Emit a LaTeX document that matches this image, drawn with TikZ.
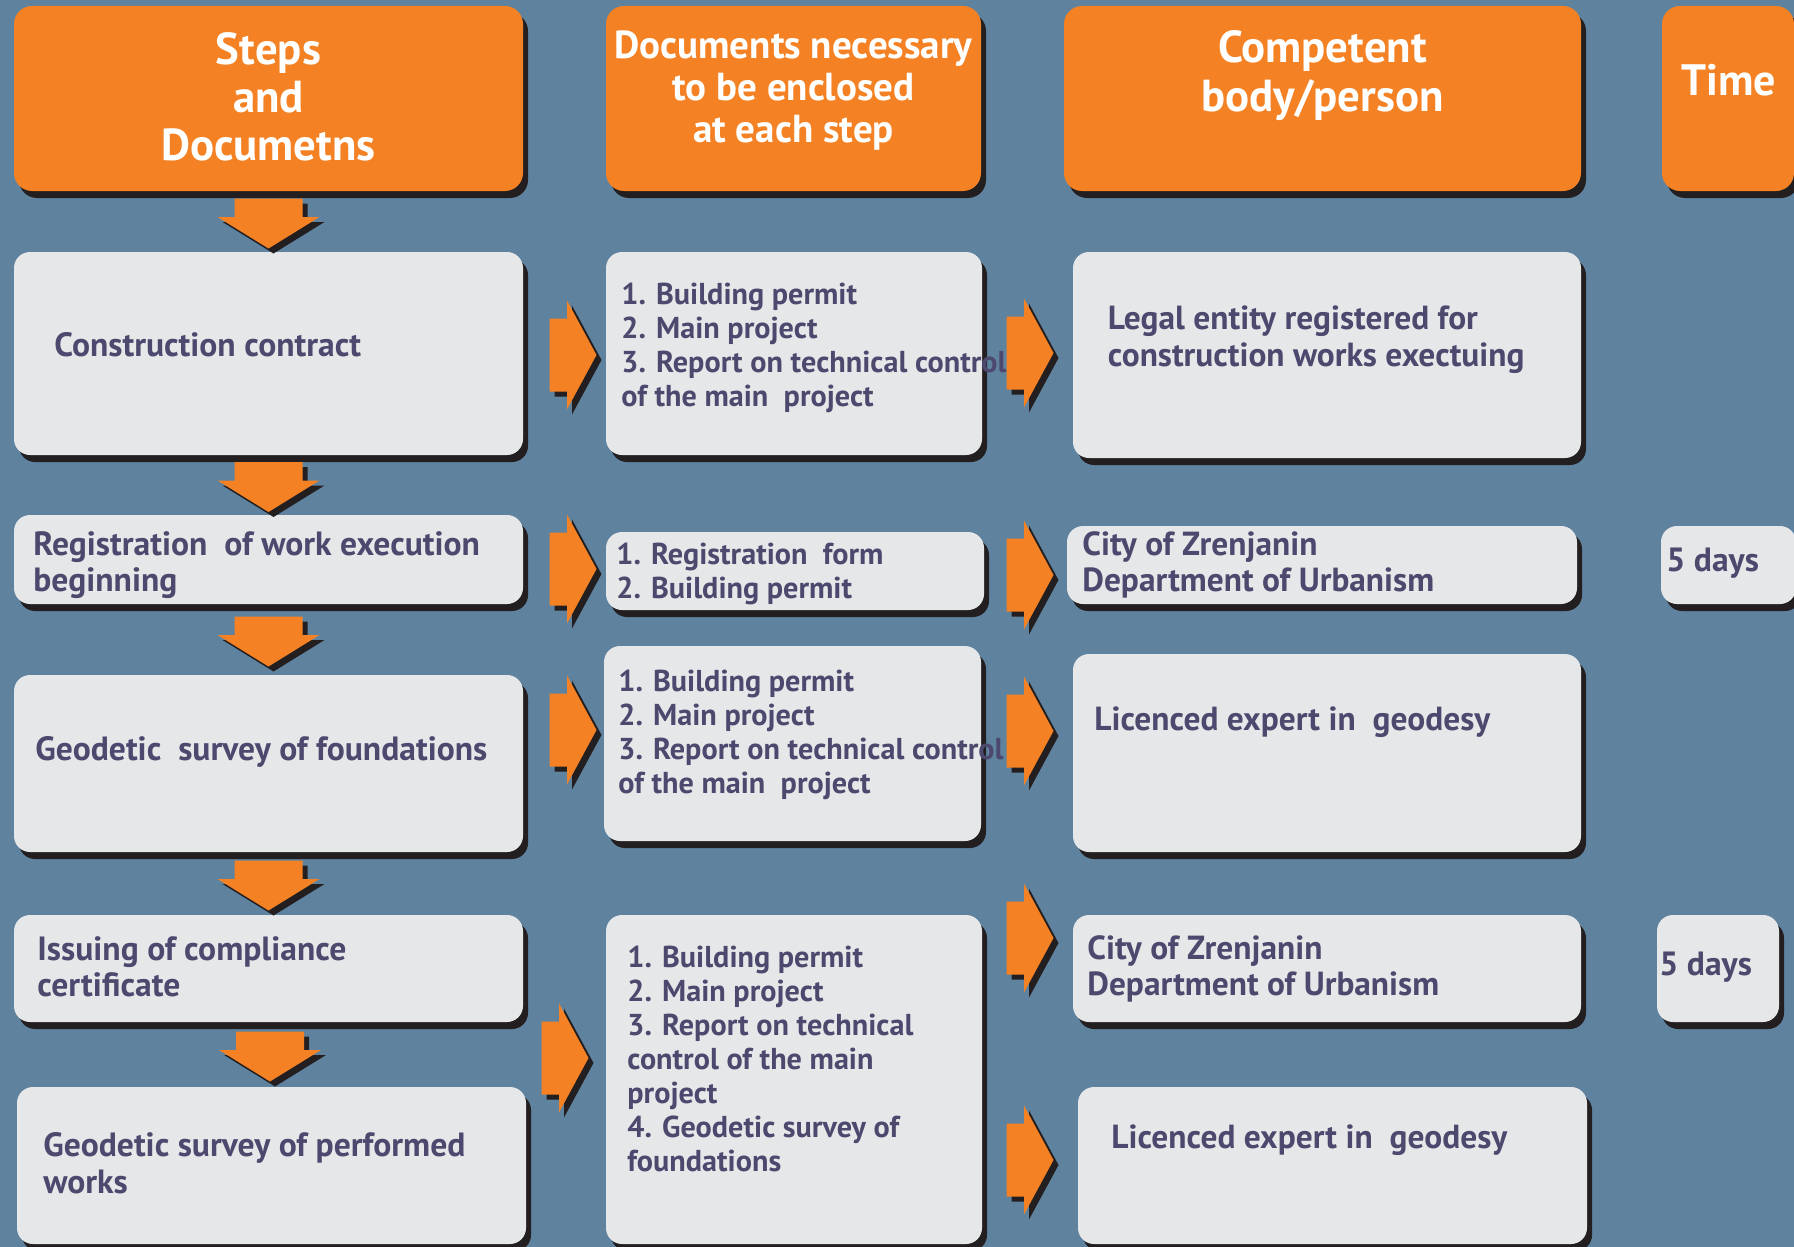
\documentclass[tikz,border=0pt]{standalone}
\usepackage{fontspec}
\setmainfont{PT Sans}
\usetikzlibrary{shadows,calc}

\definecolor{bgblue}{RGB}{95,130,159}
\definecolor{orng}{RGB}{244,130,36}
\definecolor{boxgray}{RGB}{230,231,233}
\definecolor{ink}{RGB}{76,72,110}
\definecolor{shd}{RGB}{35,31,32}

\newcommand\bodyfont{\fontsize{16.8}{18}\selectfont\bfseries}
\newcommand\docfont{\fontsize{15.1}{17}\selectfont\bfseries}
\newcommand\hdrfont{\fontsize{22.4}{24}\selectfont\bfseries}

\tikzset{
  hdr/.style={fill=orng, rounded corners=9pt, inner sep=0pt,
    drop shadow={shadow xshift=2.5pt, shadow yshift=-3.5pt, fill=shd, opacity=1}},
  box/.style={fill=boxgray, rounded corners=8pt, inner sep=0pt,
    drop shadow={shadow xshift=2.5pt, shadow yshift=-3.5pt, fill=shd, opacity=1}},
  txt/.style={text=ink, font=\bodyfont, align=left, anchor=west, inner sep=0pt},
  doctxt/.style={txt, font=\docfont},
  htxt/.style={text=white, font=\hdrfont, align=center, inner sep=0pt},
  rarr/.pic={
    \fill[shd, shift={(5,5)}] (-23.5,-36.5) -- (-6,-36.5) -- (-6,-54.5) -- (23.5,0)
      -- (-6,54.5) -- (-6,36.5) -- (-23.5,36.5) -- cycle;
    \fill[orng] (-23.5,-36.5) -- (-6,-36.5) -- (-6,-54.5) -- (23.5,0)
      -- (-6,54.5) -- (-6,36.5) -- (-23.5,36.5) -- cycle;
  },
  darr/.pic={
    \fill[shd, shift={(5,5)}] (-34,-25) -- (34,-25) -- (34,-6.5) -- (51,-6.5)
      -- (0,25) -- (-51,-6.5) -- (-34,-6.5) -- cycle;
    \fill[orng] (-34,-25) -- (34,-25) -- (34,-6.5) -- (51,-6.5)
      -- (0,25) -- (-51,-6.5) -- (-34,-6.5) -- cycle;
  },
}

\begin{document}
\begin{tikzpicture}[x=0.5pt, y=-0.5pt]
  \fill[bgblue] (0,0) rectangle (1794,1247);
  \useasboundingbox (0,0) rectangle (1794,1247);

  % headers
  \node[hdr, minimum width=254.5pt, minimum height=92.5pt] (h1) at (268.5,98.5) {};
  \node[hdr, minimum width=187.5pt, minimum height=92.5pt] (h2) at (793.5,98.5) {};
  \node[hdr, minimum width=258.5pt, minimum height=92.5pt] (h3) at (1322.5,98.5) {};
  \node[hdr, minimum width=66pt, minimum height=92.5pt]    (h4) at (1728,98.5) {};

  % steps
  \node[box, minimum width=254.5pt, minimum height=101.5pt] (s1) at (268.5,353.5) {};
  \node[box, minimum width=254.5pt, minimum height=44.5pt]  (s2) at (268.5,559.5) {};
  \node[box, minimum width=254.5pt, minimum height=88.5pt]  (s3) at (268.5,763.5) {};
  \node[box, minimum width=254.5pt, minimum height=53.5pt]  (s4) at (268.5,968.5) {};
  \node[box, minimum width=254.5pt, minimum height=78.5pt]  (s5) at (271.5,1165.5) {};

  % documents
  \node[box, minimum width=188pt, minimum height=101.5pt] (d1) at (794,353.5) {};
  \node[box, minimum width=189pt, minimum height=39pt]    (d2) at (795,571) {};
  \node[box, minimum width=188.5pt, minimum height=97.5pt] (d3) at (792.5,743.5) {};
  \node[box, minimum width=188pt, minimum height=164.5pt] (d4) at (794,1079.5) {};

  % competent body
  \node[box, minimum width=254pt, minimum height=103pt]  (c1) at (1327,355) {};
  \node[box, minimum width=255pt, minimum height=39pt]   (c2) at (1322,565) {};
  \node[box, minimum width=254pt, minimum height=99pt]   (c3) at (1327,753) {};
  \node[box, minimum width=254pt, minimum height=53.5pt] (c4) at (1327,968.5) {};
  \node[box, minimum width=254.5pt, minimum height=78.5pt] (c5) at (1332.5,1165.5) {};

  % time
  \node[box, minimum width=67.5pt, minimum height=39pt] (t2) at (1728.5,565) {};
  \node[box, minimum width=61pt, minimum height=53.5pt] (t4) at (1718,968.5) {};

  % arrows
  \foreach \a/\b in {h1/s1, s1/s2, s2/s3, s3/s4, s4/s5}
    \pic at ($(\a.south)!.5!(\b.north)+(0,2)$) {darr};
  \foreach \x/\y in {573/355, 573/569, 573/730, 565/1058,
                     1030/353, 1030/575, 1030/731, 1030/938, 1030/1160}
    \pic at (\x,\y) {rarr};

  % texts
  \node[htxt] (h1t) at (268.5,97) {Steps\\and\\Documetns};
  \node[htxt, font=\fontsize{19.5}{21}\selectfont\bfseries] (h2t) at (793.5,91)
    {Documents necessary\\to be enclosed\\at each step};
  \node[htxt, font=\fontsize{22.4}{24.5}\selectfont\bfseries] (h3t) at (1322.5,76)
    {Competent\\body/person};
  \node[htxt, font=\fontsize{22}{24}\selectfont\bfseries] (h4t) at (1729,80) {Time};

  \node[txt] (s1t) at (54,345) {Construction contract};
  \node[txt] (s2t) at (33,565) {Registration\ \ of work execution\\beginning};
  \node[txt] (s3t) at (35,752) {Geodetic\ \ survey of foundations};
  \node[txt] (s4t) at (37,967) {Issuing of compliance\\certificate};
  \node[txt, font=\fontsize{16.8}{18.3}\selectfont\bfseries] (s5t) at (43,1163)
    {Geodetic survey of performed\\works};

  \node[doctxt] (d1t) at (621,348) {1. Building permit\\2. Main project\\3. Report on technical control\\of the main\ \ project};
  \node[doctxt] (d2t) at (616,574) {1. Registration\ \ form\\2. Building permit};
  \node[doctxt] (d3t) at (618,735) {1. Building permit\\2. Main project\\3. Report on technical control\\of the main\ \ project};
  \node[doctxt] (d4t) at (627,1059) {1. Building permit\\2. Main project\\3. Report on technical\\control of the main\\project\\4. Geodetic survey of\\foundations};

  \node[txt, font=\fontsize{16.7}{18.5}\selectfont\bfseries] (c1t) at (1107.5,340)
    {Legal entity registered for\\construction works exectuing};
  \node[txt, font=\fontsize{16.7}{18}\selectfont\bfseries] (c2t) at (1082,565)
    {City of Zrenjanin\\Department of Urbanism};
  \node[txt, font=\fontsize{16.7}{18}\selectfont\bfseries] (c3t) at (1094,722)
    {Licenced expert in\ \ geodesy};
  \node[txt, font=\fontsize{16.7}{18}\selectfont\bfseries] (c4t) at (1087,969)
    {City of Zrenjanin\\Department of Urbanism};
  \node[txt, font=\fontsize{16.7}{18}\selectfont\bfseries] (c5t) at (1111,1140)
    {Licenced expert in\ \ geodesy};

  \node[txt] (t2t) at (1666,563) {5 days};
  \node[txt] (t4t) at (1659,967.5) {5 days};
\end{tikzpicture}
\end{document}
